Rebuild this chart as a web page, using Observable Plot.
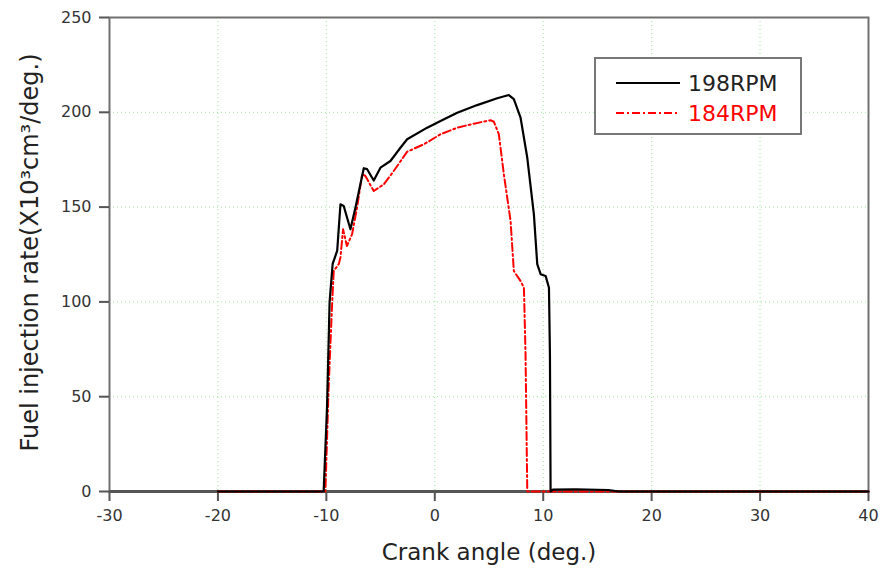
<!DOCTYPE html>
<html>
<head>
<meta charset="utf-8">
<script src="https://cdn.jsdelivr.net/npm/d3@7"></script>
<script src="https://cdn.jsdelivr.net/npm/@observablehq/plot@0.6"></script>
<style>
  html, body { margin: 0; padding: 0; background: #fff; }
  #wrap { position: relative; width: 880px; height: 570px; font-family: "DejaVu Sans", sans-serif; }
  #legend { position: absolute; left: 594px; top: 57px; width: 204px; height: 74px;
            border: 2px solid #777; background: #fff; box-sizing: content-box; }
  .row { position: absolute; left: 0; display: flex; align-items: center; font-size: 22px; }
  .row svg { margin-left: 20px; margin-right: 8px; }
</style>
</head>
<body>
<div id="wrap">
  <div id="chart"></div>
  <div id="legend"></div>
</div>
<script>
// ---- data ----
const seriesNames = ["198RPM", "184RPM"];
const seriesColors = ["#000000", "#ff0000"];

const angle198 = [-20, -10.25, -9.94, -9.7, -9.42, -9.0, -8.7, -8.4, -7.78, -7.32, -6.55, -6.24, -5.63, -5.01, -4.09, -3.17, -2.55, -0.7, 0.53, 2.07, 3.91, 5.76, 6.83, 7.29, 7.91, 8.53, 9.14, 9.45, 9.76, 10.22, 10.53, 10.62, 10.68, 10.9, 13, 16, 17, 40];
const rate198  = [0, 0, 44, 100, 120, 127, 151.5, 150.6, 138.3, 149.7, 170.5, 170, 164, 170.8, 174.3, 181.3, 185.8, 191.9, 195.4, 199.8, 203.8, 207.4, 209.1, 206.9, 197.2, 176, 146.2, 119.9, 114.6, 113.7, 107.5, 72.4, 0, 1, 1.2, 0.8, 0, 0];

const angle184 = [-20, -10.09, -9.79, -9.47, -9.32, -8.86, -8.7, -8.46, -8.1, -7.63, -7.17, -6.7, -6.4, -5.63, -4.7, -3.79, -2.55, -1.02, 0.53, 2.07, 3.6, 5.14, 5.45, 5.91, 6.37, 6.99, 7.29, 7.91, 8.22, 8.37, 8.53, 40];
const rate184  = [0, 0, 54.8, 98.8, 116.3, 119.9, 123.4, 138.3, 129.5, 135.7, 149.7, 167.3, 166.4, 158.5, 162, 169, 179.2, 183.1, 188.4, 191.9, 194, 195.8, 195, 188.4, 167.3, 142.7, 116.3, 111, 107.5, 72.4, 0, 0];

const xTicks = [-30, -20, -10, 0, 10, 20, 30, 40];
const yTicks = [0, 50, 100, 150, 200, 250];
const xTitle = "Crank angle (deg.)";
const yTitle = "Fuel injection rate(X10\u00B3cm\u00B3/deg.)";

// ---- tables built from the arrays ----
const d198 = angle198.map((a, i) => ({angle: a, rate: rate198[i]}));
const d184 = angle184.map((a, i) => ({angle: a, rate: rate184[i]}));

const chart = Plot.plot({
  width: 880,
  height: 570,
  marginLeft: 109,
  marginRight: 12,
  marginTop: 17,
  marginBottom: 79,
  x: {domain: [-30, 40]},
  y: {domain: [0, 250]},
  style: {fontFamily: "DejaVu Sans, sans-serif", fontSize: "16px", color: "#333", background: "#fff"},
  marks: [
    Plot.gridX(xTicks.slice(1, -1), {stroke: "#9ee89e", strokeOpacity: 1, strokeDasharray: "1,3"}),
    Plot.gridY(yTicks.slice(1, -1), {stroke: "#9ee89e", strokeOpacity: 1, strokeDasharray: "1,3"}),
    Plot.frame({stroke: "#707070", strokeWidth: 2}),
    Plot.ruleY([0], {stroke: "#555", strokeWidth: 3}),
    Plot.axisX(xTicks, {tickSize: 10, tickPadding: 8, label: null, tickFormat: d => String(d), stroke: "#555", strokeWidth: 2, fill: "#333"}),
    Plot.axisY(yTicks, {tickSize: 10, tickPadding: 8, label: null, tickFormat: d => String(d), stroke: "#555", strokeWidth: 2, fill: "#333"}),
    Plot.line(d184, {x: "angle", y: "rate", stroke: seriesColors[1], strokeWidth: 2, strokeDasharray: "8,3,2,3", curve: "linear"}),
    Plot.line(d198, {x: "angle", y: "rate", stroke: seriesColors[0], strokeWidth: 2.2, curve: "linear"}),
    Plot.text([xTitle], {frameAnchor: "bottom", lineAnchor: "middle", dy: 61, fontSize: 23, fill: "#222"}),
    Plot.text([yTitle], {frameAnchor: "left", textAnchor: "middle", lineAnchor: "middle", rotate: -90, dx: -79, dy: -2, fontSize: 24, fill: "#222"})
  ]
});
document.getElementById("chart").appendChild(chart);

// ---- legend ----
const legend = document.getElementById("legend");
seriesNames.forEach((name, i) => {
  const row = document.createElement("div");
  row.className = "row";
  row.style.top = (i === 0 ? 11 : 41) + "px";
  row.style.height = "26px";
  row.style.color = seriesColors[i] === "#000000" ? "#222" : seriesColors[i];
  const dash = i === 0 ? "" : ' stroke-dasharray="8,3,2,3"';
  row.innerHTML = `<svg width="64" height="6"><line x1="0" y1="3" x2="64" y2="3" stroke="${seriesColors[i]}" stroke-width="2"${dash}/></svg><span>${name}</span>`;
  legend.appendChild(row);
});
</script>
</body>
</html>
